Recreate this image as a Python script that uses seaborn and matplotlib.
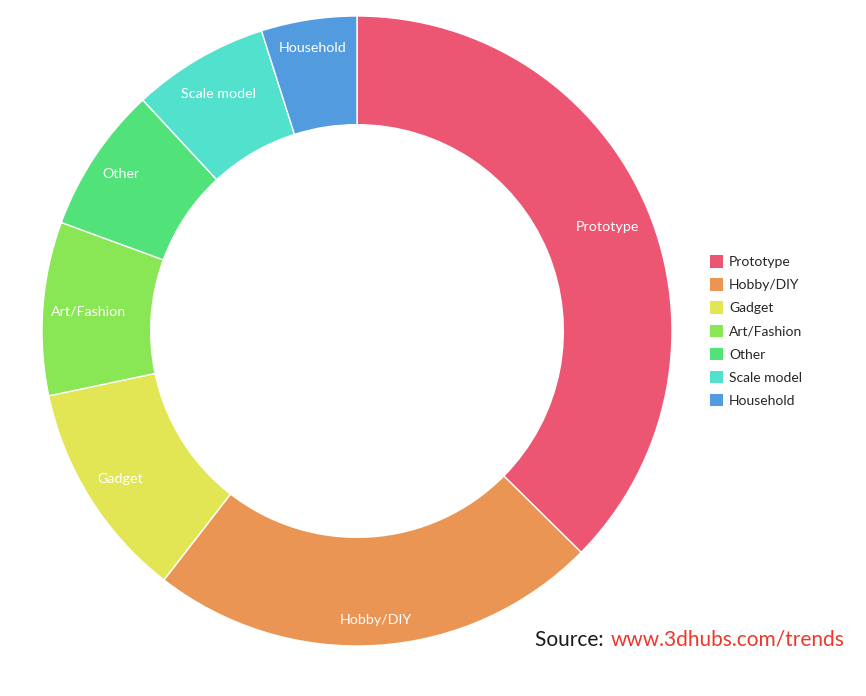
import numpy as np
import seaborn as sns
import matplotlib.pyplot as plt
from matplotlib.patches import Patch

categories = ["Prototype", "Hobby/DIY", "Gadget", "Art/Fashion", "Other", "Scale model", "Household"]
shares = [37.4, 23.1, 11.2, 8.9, 7.5, 7.0, 4.9]
colors = ["#EC5672", "#EA9554", "#E2E655", "#89E655", "#52E27A", "#52E1CD", "#529BDE"]

sns.set_theme(style="white")
plt.rcParams["font.family"] = ["Lato", "DejaVu Sans"]

fig = plt.figure(figsize=(8.66, 6.96), dpi=100)
ax = fig.add_axes([42 / 866, 50 / 696, 630 / 866, 630 / 696])

wedges, texts = ax.pie(
    shares,
    labels=categories,
    colors=colors,
    startangle=90,
    counterclock=False,
    radius=1.0,
    wedgeprops=dict(width=0.345, edgecolor="white", linewidth=1),
    textprops=dict(color="white", fontsize=10.3),
)

# labels sit inside the ring, a bit closer to the outer edge
label_r = [0.86, 0.92, 0.885, 0.855, 0.9, 0.87, 0.91]
for w, t, r in zip(wedges, texts, label_r):
    mid = np.deg2rad((w.theta1 + w.theta2) / 2)
    t.set_position((r * np.cos(mid), r * np.sin(mid)))
    t.set_horizontalalignment("center")
    t.set_verticalalignment("center")

ax.set_xlim(-1, 1)
ax.set_ylim(-1, 1)
ax.set_aspect("equal")
ax.axis("off")

handles = [Patch(facecolor=c, edgecolor="none") for c in colors]
fig.legend(
    handles,
    categories,
    loc="center left",
    bbox_to_anchor=(697 / 866, (696 - 331) / 696),
    frameon=False,
    fontsize=10,
    handlelength=1.0,
    handleheight=1.0,
    handletextpad=0.4,
    labelspacing=0.73,
)

fig.text(535 / 866, (696 - 640) / 696, "Source: ", fontsize=15, color="#1a1a1a", va="center", ha="left")
fig.text(611 / 866, (696 - 640) / 696, "www.3dhubs.com/trends", fontsize=15, color="#F0362A", va="center", ha="left")

fig.savefig("out.png", dpi=100)
